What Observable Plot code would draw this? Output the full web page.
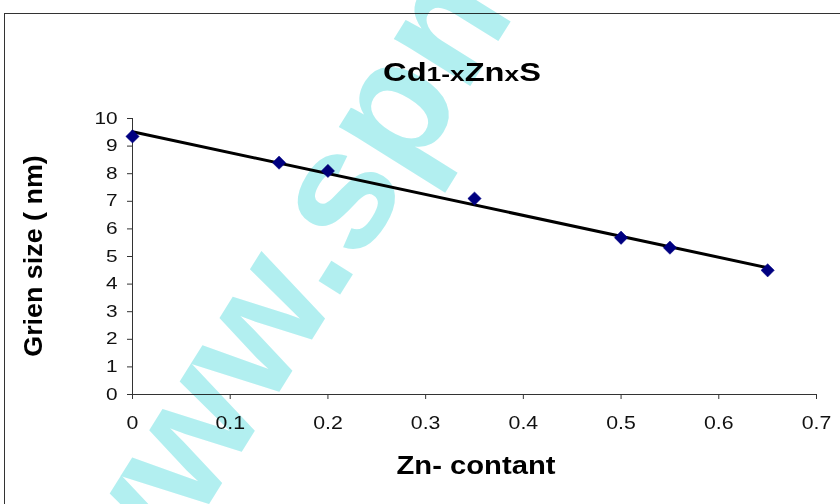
<!DOCTYPE html>
<html>
<head>
<meta charset="utf-8">
<script src="https://cdn.jsdelivr.net/npm/d3@7"></script>
<script src="https://cdn.jsdelivr.net/npm/@observablehq/plot@0.6"></script>
<style>
  html, body { margin: 0; padding: 0; background: #fff; }
  #wrap { position: relative; width: 840px; height: 504px; overflow: hidden; font-family: "Liberation Sans", Arial, sans-serif; }
  #frame { position: absolute; left: 4px; top: 13px; width: 900px; height: 600px; border: 1px solid #333; box-sizing: border-box; }
  #chart { position: absolute; left: 0; top: 0; }
  .lab { position: absolute; white-space: nowrap; font-weight: bold; line-height: 1; color: #000; }
  #title { font-size: 26px; }
  #title .s { font-size: 21px; }
  #ylab { font-size: 25px; }
  #xlab { font-size: 25px; }
  #wm { position: absolute; left: 77px; top: 604px; transform-origin: 0 0; transform: rotate(-58deg); font-size: 170px; font-weight: bold; color: #b2eff0; mix-blend-mode: multiply; white-space: nowrap; line-height: 0; }
</style>
</head>
<body>
<div id="wrap">
  <div id="frame"></div>
  <div id="chart"></div>
  <div id="title" class="lab">Cd<span class="s">1-x</span>Zn<span class="s">x</span>S</div>
  <div id="ylab" class="lab">Grien size ( nm)</div>
  <div id="xlab" class="lab">Zn- contant</div>
  <div id="wm">www.spm</div>
</div>
<script>
const znContent = [0, 0.15, 0.2, 0.35, 0.5, 0.55, 0.65];
const grainSize = [9.35, 8.4, 8.1, 7.1, 5.68, 5.32, 4.5];
const xTicks = [0, 0.1, 0.2, 0.3, 0.4, 0.5, 0.6, 0.7];
const yTicks = [0, 1, 2, 3, 4, 5, 6, 7, 8, 9, 10];

const data = znContent.map((x, i) => ({x, y: grainSize[i]}));

const plot = Plot.plot({
  width: 840,
  height: 504,
  marginLeft: 132,
  marginRight: 24,
  marginTop: 118,
  marginBottom: 110,
  style: { fontFamily: "'Liberation Sans', Arial, sans-serif", color: "#111", background: "transparent" },
  x: { domain: [0, 0.7] },
  y: { domain: [0, 10] },
  marks: [
    Plot.axisX({ ticks: xTicks, tickFormat: d => String(d), tickSize: 5, tickPadding: 16, label: null, fontSize: 18.5, stroke: "#333" }),
    Plot.axisY({ ticks: yTicks, tickFormat: d => String(d), tickSize: 5, tickPadding: 10, label: null, fontSize: 16, stroke: "#333" }),
    Plot.ruleY([0], { stroke: "#333", strokeWidth: 1 }),
    Plot.ruleX([0], { stroke: "#333", strokeWidth: 1 }),
    Plot.linearRegressionY(data, { x: "x", y: "y", ci: 0, stroke: "#000", strokeWidth: 3 }),
    Plot.dot(data, { x: "x", y: "y", symbol: "diamond2", r: 6, fill: "#000080", stroke: "#000080", strokeWidth: 0.5 })
  ]
});
document.getElementById("chart").appendChild(plot);

// horizontal stretch of tick labels, as in the reference rendering
function stretch(sel, f) {
  plot.querySelectorAll(sel).forEach(t => {
    const len = t.getComputedTextLength();
    t.setAttribute("textLength", len * f);
    t.setAttribute("lengthAdjust", "spacingAndGlyphs");
  });
}
stretch('g[aria-label="x-axis tick label"] text', 1.15);
stretch('g[aria-label="y-axis tick label"] text', 1.3);

// place HTML labels: centre + target length along text
function place(id, cx, cy, target, rot) {
  const el = document.getElementById(id);
  const w = el.offsetWidth;
  const s = target / w;
  el.style.left = cx + "px";
  el.style.top = cy + "px";
  el.style.transform = `translate(-50%, -50%) ${rot ? "rotate(-90deg) " : ""}scaleX(${s})`;
}
place("title", 462, 72, 158, false);
place("xlab", 476, 465, 159, false);
place("ylab", 33, 256, 202, true);
</script>
</body>
</html>
